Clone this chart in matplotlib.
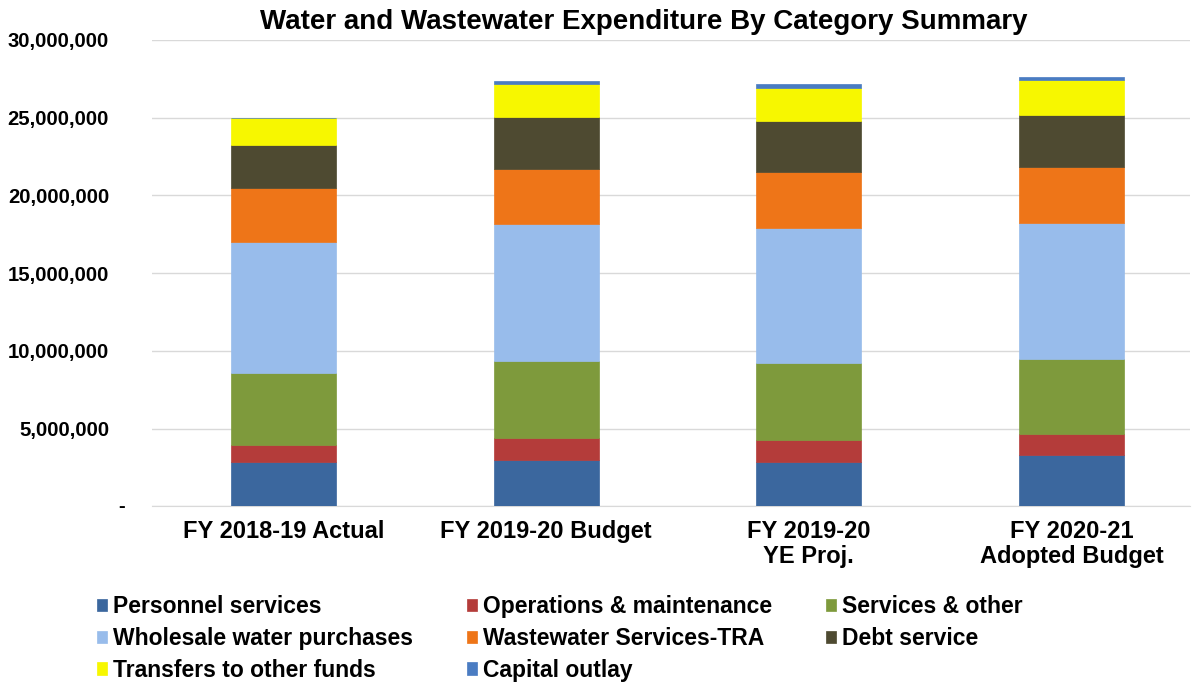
import matplotlib
matplotlib.use("Agg")
import matplotlib.pyplot as plt
import numpy as np
from matplotlib.ticker import FuncFormatter
import matplotlib.transforms as mtransforms

plt.rcParams['font.family'] = ['Liberation Sans', 'DejaVu Sans']
plt.rcParams['font.weight'] = 'bold'

categories = ["FY 2018-19 Actual", "FY 2019-20 Budget", "FY 2019-20\nYE Proj.", "FY 2020-21\nAdopted Budget"]
series_names = ["Personnel services", "Operations & maintenance", "Services & other",
                "Wholesale water purchases", "Wastewater Services-TRA", "Debt service",
                "Transfers to other funds", "Capital outlay"]
personnel = [2850000, 3000000, 2850000, 3280000]
operations = [1080000, 1400000, 1400000, 1350000]
services = [4610000, 4950000, 4970000, 4870000]
wholesale = [8460000, 8800000, 8690000, 8690000]
wastewater = [3450000, 3520000, 3600000, 3650000]
debt = [2780000, 3340000, 3260000, 3320000]
transfers = [1720000, 2150000, 2150000, 2250000]
capital = [20000, 170000, 240000, 180000]
colors = ["#3B679E", "#B43C3A", "#7E9A3C", "#98BCEB", "#EE7518", "#4E4A31", "#F7F700", "#4A7CC2"]

series = [personnel, operations, services, wholesale, wastewater, debt, transfers, capital]

fig = plt.figure(figsize=(11.98, 6.86), dpi=100)
ax = fig.add_axes([0.127, 0.262, 0.866, 0.68])

x = np.arange(len(categories))
bottom = np.zeros(len(categories))
handles = []
for name, vals, c in zip(series_names, series, colors):
    h = ax.bar(x, vals, 0.4, bottom=bottom, color=c, edgecolor=c, linewidth=0.5, label=name, zorder=3)
    handles.append(h)
    bottom += np.array(vals)

ax.set_ylim(0, 30000000)
ax.set_xlim(-0.5, 3.45)
ax.set_yticks(np.arange(0, 30000001, 5000000))
ax.yaxis.set_major_formatter(FuncFormatter(lambda v, p: "" if v == 0 else f"{int(v):,}"))
ax.grid(axis='y', color='#D9D9D9', linewidth=1, zorder=0)
for s in ['left', 'right', 'top']:
    ax.spines[s].set_visible(False)
ax.spines['bottom'].set_color('#D9D9D9')
ax.tick_params(axis='both', length=0)
ax.tick_params(axis='y', pad=31, labelsize=14.6)
ax.set_xticks(x)
ax.set_xticklabels(categories, fontsize=17, fontweight='bold', linespacing=1.1)
ax.tick_params(axis='x', pad=10)
for lab in ax.get_yticklabels():
    lab.set_fontweight('bold')

# zero label shown as a dash (accounting style)
trans = mtransforms.blended_transform_factory(ax.transAxes, ax.transData)
ax.text(-0.0294, 0, "-", transform=trans, ha='center', va='center',
        fontsize=14.6, fontweight='bold')

fig.text(0.537, 0.968, "Water and Wastewater Expenditure By Category Summary",
         ha='center', va='center', fontsize=20, fontweight='bold')

order = [0, 3, 6, 1, 4, 7, 2, 5]
leg = fig.legend(handles=[handles[i] for i in order], labels=[series_names[i] for i in order],
                 ncol=3, loc='upper left',
                 bbox_to_anchor=(0.0673, 0.1556), frameon=False,
                 prop={'weight': 'bold', 'size': 16.5},
                 handlelength=0.45, handleheight=0.45, handletextpad=0.25,
                 columnspacing=2.35, labelspacing=0.38, borderpad=0.2)

fig.savefig("out.png", dpi=100)
